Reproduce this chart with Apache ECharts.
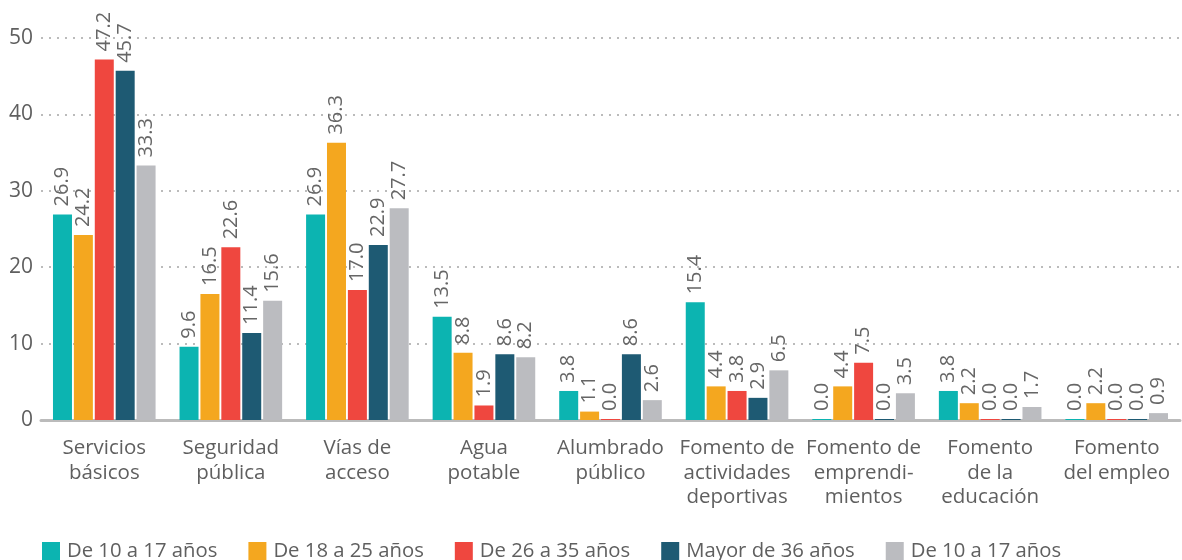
<!DOCTYPE html>
<html>
<head>
<meta charset="utf-8">
<script src="https://cdn.jsdelivr.net/npm/echarts@6/dist/echarts.min.js"></script>
<style>
  html,body{margin:0;padding:0;background:#fff;}
  #main{width:1182px;height:560px;}
</style>
</head>
<body>
<div id="main"></div>
<script>
var categories = ['Servicios\nbásicos','Seguridad\npública','Vías de\nacceso','Agua\npotable','Alumbrado\npúblico',
  'Fomento de\nactividades\ndeportivas','Fomento de\nemprendi-\nmientos','Fomento\nde la\neducación','Fomento\ndel empleo'];
var seriesNames = ['De 10 a 17 años','De 18 a 25 años','De 26 a 35 años','Mayor de 36 años','De 10 a 17 años '];
var colors = ['#0cb4b1','#f4a71f','#ef473f','#1e5a73','#bbbcc0'];
var age10_17 = [26.9, 9.6, 26.9, 13.5, 3.8, 15.4, 0.0, 3.8, 0.0];
var age18_25 = [24.2, 16.5, 36.3, 8.8, 1.1, 4.4, 4.4, 2.2, 2.2];
var age26_35 = [47.2, 22.6, 17.0, 1.9, 0.0, 3.8, 7.5, 0.0, 0.0];
var age36plus = [45.7, 11.4, 22.9, 8.6, 8.6, 2.9, 0.0, 0.0, 0.0];
var total = [33.3, 15.6, 27.7, 8.2, 2.6, 6.5, 3.5, 1.7, 0.9];
var values = [age10_17, age18_25, age26_35, age36plus, total];

var font = '"Open Sans", sans-serif';
var chart = echarts.init(document.getElementById('main'));
chart.setOption({
  animation: false,
  textStyle: { fontFamily: font },
  grid: { left: 41, right: 2, top: 38, bottom: 140 },
  legend: {
    left: 37, top: 536,
    itemWidth: 18, itemHeight: 18, itemGap: 31,
    icon: 'rect',
    textStyle: { fontSize: 20.3, color: '#5f5f5f', fontFamily: font, padding: [0, 0, 0, 2] },
    data: seriesNames
  },
  xAxis: {
    type: 'category',
    data: categories,
    axisTick: { show: false },
    axisLine: { lineStyle: { color: '#bbbbbb', width: 3 } },
    axisLabel: { fontSize: 20.5, color: '#5f5f5f', lineHeight: 24.5, margin: 16, interval: 0 }
  },
  yAxis: {
    type: 'value', min: 0, max: 50, interval: 10,
    axisLabel: { fontSize: 21, color: '#5f5f5f', margin: 8 },
    splitLine: { lineStyle: { color: '#bbbbbb', type: [2, 6], width: 2 } }
  },
  series: values.map(function (d, i) {
    return {
      name: seriesNames[i],
      type: 'bar',
      data: d,
      barWidth: 19,
      barGap: '10%',
      barMinHeight: 1,
      itemStyle: { color: colors[i] },
      label: {
        show: true, position: 'top', rotate: 90, align: 'left', verticalAlign: 'middle',
        distance: 8, fontSize: 20, color: '#666',
        formatter: function (p) { return p.value.toFixed(1); }
      }
    };
  })
});
</script>
</body>
</html>
